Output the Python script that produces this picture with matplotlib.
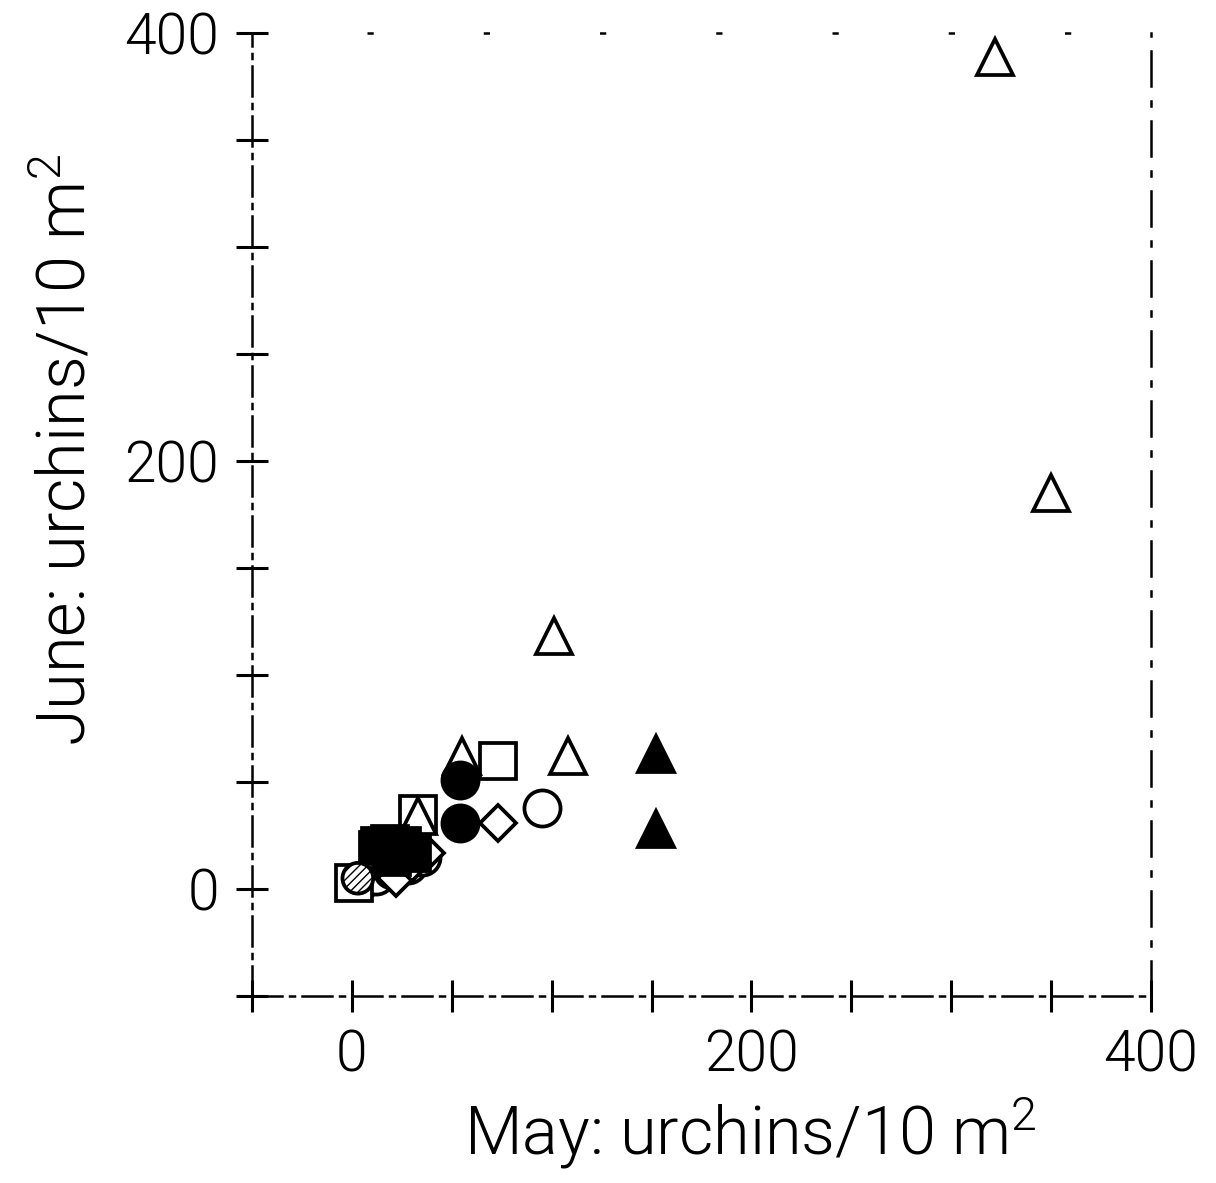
import matplotlib
matplotlib.use("Agg")
import matplotlib.pyplot as plt

# Sea urchin densities per 10 m^2, May (x) vs June (y), by site group
open_tri_x = [322, 350, 101, 108, 55, 33]
open_tri_y = [389, 185, 118, 62, 62, 34]

open_sq_x = [73, 33, 1, 13]
open_sq_y = [60, 35, 3, 18]

filled_circ_x = [54, 54]
filled_circ_y = [51, 31]

filled_tri_x = [152, 152]
filled_tri_y = [63, 28]

open_dia_x = [73, 37, 22, 30]
open_dia_y = [31, 17, 5, 12]

open_circ_x = [95, 5, 12, 20, 28, 35]
open_circ_y = [38, 4, 6, 9, 11, 15]

hatch_circ_x = [3]
hatch_circ_y = [5]

filled_sq_x = [14, 19, 25, 30, 20]
filled_sq_y = [20, 21, 20, 17, 15]

tick_vals = [-50, 0, 50, 100, 150, 200, 250, 300, 350, 400]
tick_labels = ["", "0", "", "", "", "200", "", "", "", "400"]

family = "Roboto"
plt.rcParams["font.family"] = [family, "DejaVu Sans"]
plt.rcParams["font.weight"] = 300
plt.rcParams["mathtext.fontset"] = "custom"
plt.rcParams["mathtext.rm"] = family + ":weight=300"
plt.rcParams["mathtext.default"] = "rm"

fig = plt.figure(figsize=(12.16, 11.83), dpi=100)
ax = fig.add_axes([0.2072, 0.1581, 0.7393, 0.8140])

lw = 2.7
ms = 26
common = dict(linestyle="none", markeredgewidth=lw, markeredgecolor="black", clip_on=False)

ax.plot(open_circ_x, open_circ_y, marker="o", markersize=ms, markerfacecolor="white", **common)
ax.plot(open_dia_x, open_dia_y, marker="D", markersize=18, markerfacecolor="white", **common)
ax.plot(open_sq_x, open_sq_y, marker="s", markersize=ms, markerfacecolor="white", **common)
ax.plot(open_tri_x, open_tri_y, marker="^", markersize=ms, markerfacecolor="white", **common)
ax.plot(filled_sq_x, filled_sq_y, marker="s", markersize=ms, markerfacecolor="black", **common)
ax.plot(filled_circ_x, filled_circ_y, marker="o", markersize=ms, markerfacecolor="black", **common)
ax.plot(filled_tri_x, filled_tri_y, marker="^", markersize=ms, markerfacecolor="black", **common)
ax.scatter(hatch_circ_x, hatch_circ_y, s=(ms * 0.85) ** 2, marker="o", facecolor="white",
           edgecolor="black", linewidths=lw, hatch="////", zorder=3)

ax.set_xlim(-50, 400)
ax.set_ylim(-50, 400)

ax.set_xticks(tick_vals)
ax.set_xticklabels(tick_labels, fontweight=300)
ax.set_yticks(tick_vals)
ax.set_yticklabels(tick_labels, fontweight=300)
ax.tick_params(axis="both", direction="inout", length=23, width=2.2, labelsize=41, pad=12)

# Dash-dot frame lines
ax.spines["left"].set_linestyle((0, (12, 3, 2, 3)))
ax.spines["bottom"].set_linestyle((0, (12, 3, 2, 3)))
ax.spines["right"].set_linestyle((0, (14, 6, 2, 6)))
ax.spines["top"].set_linestyle((0, (1.5, 45)))
for sp in ax.spines.values():
    sp.set_linewidth(1.8)

ax.set_xlabel("May: urchins/10 m$^2$", fontsize=48, fontweight=300)
ax.xaxis.set_label_coords(0.554, -0.102)
ax.set_ylabel("June: urchins/10 m$^2$", fontsize=48, fontweight=300)
ax.yaxis.set_label_coords(-0.17, 0.567)

fig.savefig("out.png", dpi=100, facecolor="white")
